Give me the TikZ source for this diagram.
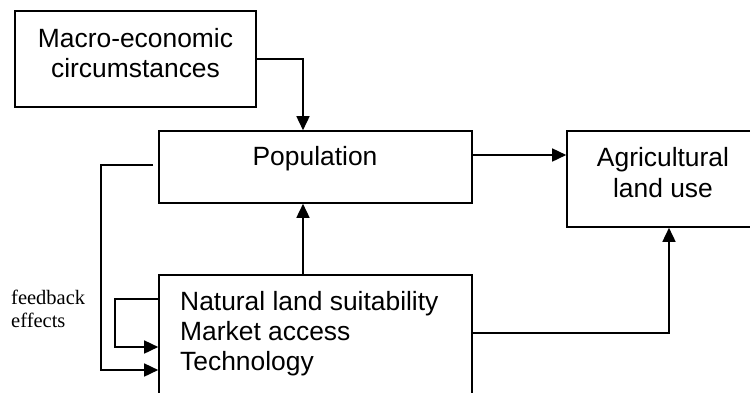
\documentclass[tikz,border=0pt]{standalone}
\usepackage{fontspec}
\setmainfont{Liberation Sans}
\newfontfamily\fbserif{Liberation Serif}
\usetikzlibrary{arrows.meta,calc}
\begin{document}
\begin{tikzpicture}[x=1pt,y=-1pt,
  box/.style={draw,line width=1.6pt,rectangle,inner sep=0pt},
  lbl/.style={font=\fontsize{26.4}{30}\selectfont,inner sep=0pt,anchor=base,align=center},
  arr/.style={line width=1.6pt,-{Triangle[length=14pt,width=13pt]}},
  conn/.style={line width=1.6pt}]
\clip (0,0) rectangle (750,392);
\fill[white] (0,0) rectangle (750,392);
% boxes
\node[box,minimum width=241pt,minimum height=96pt] (macro) at (135.5,59) {};
\node[box,minimum width=313pt,minimum height=72pt] (pop) at (315.5,167) {};
\node[box,minimum width=193pt,minimum height=96pt] (agri) at (663.5,179) {};
\node[box,minimum width=313pt,minimum height=125pt] (bot) at (315.5,337.5) {};
% texts
\node[lbl] (macrot1) at (135.5,47) {Macro-economic};
\node[lbl] (macrot2) at (135.5,77) {circumstances};
\node[lbl] (popt) at (315,165) {Population};
\node[lbl] (agrit1) at (663,166) {Agricultural};
\node[lbl] (agrit2) at (663,197) {land use};
\node[lbl,anchor=base west] (bott1) at (180,310) {Natural land suitability};
\node[lbl,anchor=base west] (bott2) at (180,340) {Market access};
\node[lbl,anchor=base west] (bott3) at (180,370) {Technology};
\node[font=\fbserif\fontsize{20.5}{23}\selectfont,inner sep=0pt,anchor=base west] (fb1) at (11,304) {feedback};
\node[font=\fbserif\fontsize{20.5}{23}\selectfont,inner sep=0pt,anchor=base west] (fb2) at (11,327) {effects};
% connectors
\draw[arr] (macro.east) -| ([xshift=-12.5pt]pop.north);
\draw[arr] ([yshift=12pt]pop.east) -- ([yshift=24pt]agri.west);
\draw[arr] ([xshift=-12.5pt]bot.north) -- ([xshift=-12.5pt]pop.south);
\draw[conn] ([yshift=4.5pt]bot.east) -| ([xshift=5.5pt,yshift=-14pt]agri.south);
\draw[arr] ([xshift=5.5pt,yshift=-14pt]agri.south) -- ([xshift=5.5pt]agri.south);
\draw[arr] ([xshift=-5pt,yshift=2pt]pop.west) -- ++(-52,0) |- ([yshift=-32.5pt]bot.west);
\draw[arr] ([yshift=38.5pt]bot.west) -- ++(-43,0) |- ([yshift=-9.5pt]bot.west);
\end{tikzpicture}
\end{document}
